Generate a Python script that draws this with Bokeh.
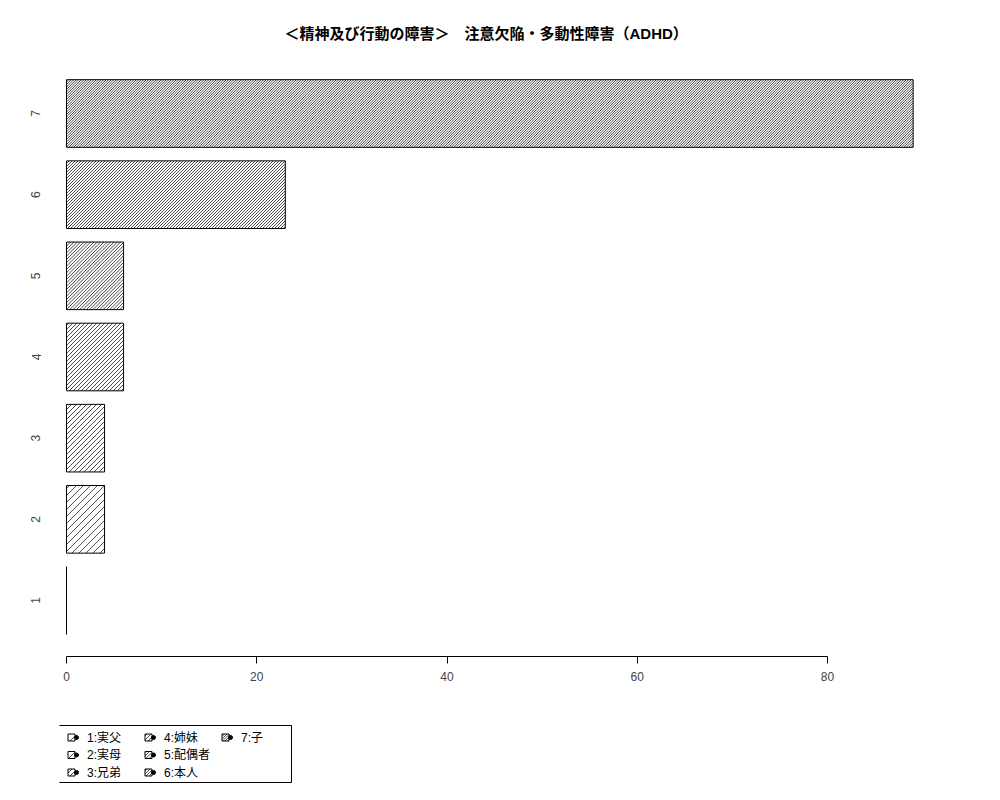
import math
from bokeh.plotting import figure
from bokeh.models import Range1d, FixedTicker, ColumnDataSource, Title
from bokeh.layouts import column
from bokeh.embed import file_html
from bokeh.resources import INLINE
from bokeh.core.properties import value

# ---- data ----
categories = ["1", "2", "3", "4", "5", "6", "7"]
legend_labels = ["1:実父", "2:実母", "3:兄弟", "4:姉妹", "5:配偶者", "6:本人", "7:子"]
counts = [0, 4, 4, 6, 6, 23, 89]
hatch_spacing = [10.0, 7.0, 5.0, 4.0, 10 / 3, 3.0, 2.5]   # px between hatch lines (horizontal)
x_ticks = [0, 20, 40, 60, 80]
title_text = "＜精神及び行動の障害＞　注意欠陥・多動性障害（ADHD）"

FONT = "Liberation Sans, Noto Sans CJK JP"
LAT = "Liberation Sans"

# ---- layout constants ----
W, H = 984, 700
MB_L, MB_R, MB_T, MB_B = 59, 14, 57, 44
FRAME_W = W - MB_L - MB_R
FRAME_H = H - MB_T - MB_B
XR = (-0.736, 95.03)
YR = (-0.128, 8.728)
kx = FRAME_W / (XR[1] - XR[0])
ky = FRAME_H / (YR[1] - YR[0])
HATCH_W = 0.7


def hatch_lines(x0, x1, y0, y1, d):
    """45-degree '/' lines inside a pixel box (y up). Returns lists of segment ends."""
    sx, sy, ex, ey = [], [], [], []
    if x1 - x0 <= 0 or d <= 0:
        return sx, sy, ex, ey
    k0 = math.ceil((x0 - y1) / d)
    k1 = math.floor((x1 - y0) / d)
    for k in range(k0, k1 + 1):
        c = k * d
        xs = max(x0, c + y0)
        xe = min(x1, c + y1)
        if xe - xs > 0.01:
            sx.append(xs); sy.append(xs - c); ex.append(xe); ey.append(xe - c)
    return sx, sy, ex, ey


# bar centres like R barplot (width 1, space 0.2)
ys = [0.7 + 1.2 * i for i in range(len(categories))]
src = ColumnDataSource(dict(y=ys, right=counts, cat=categories))

p = figure(width=W, height=H, output_backend="svg", toolbar_location=None,
           x_range=Range1d(*XR), y_range=Range1d(*YR),
           min_border_left=MB_L, min_border_right=MB_R, min_border_top=MB_T, min_border_bottom=MB_B)
p.outline_line_color = None
p.xgrid.visible = False
p.ygrid.visible = False

p.hbar(y="y", left=0, right="right", height=1.0, source=src,
       fill_color="white", line_color=None)

hx0, hy0, hx1, hy1 = [], [], [], []
for yc, v, d in zip(ys, counts, hatch_spacing):
    bx0 = (0 - XR[0]) * kx
    bx1 = (v - XR[0]) * kx
    by0 = (yc - 0.5 - YR[0]) * ky
    by1 = (yc + 0.5 - YR[0]) * ky
    a, b, c_, e = hatch_lines(bx0, bx1, by0, by1, d)
    hx0 += [XR[0] + t / kx for t in a]
    hy0 += [YR[0] + t / ky for t in b]
    hx1 += [XR[0] + t / kx for t in c_]
    hy1 += [YR[0] + t / ky for t in e]
p.segment(x0=hx0, y0=hy0, x1=hx1, y1=hy1, line_color="black", line_width=HATCH_W)

p.hbar(y="y", left=0, right="right", height=1.0, source=src,
       fill_color=None, line_color="black", line_width=1)

p.add_layout(Title(text=title_text, align="left", offset=225, standoff=32,
                   text_font=FONT, text_font_size="15px", text_font_style="bold",
                   text_color="black"), "above")

xa = p.xaxis[0]
xa.ticker = FixedTicker(ticks=x_ticks)
xa.bounds = (0, 80)
xa.axis_line_color = "black"
xa.major_tick_line_color = "black"
xa.major_tick_out = 7
xa.major_tick_in = 0
xa.minor_tick_line_color = None
xa.major_label_text_font = LAT
xa.major_label_text_font_size = "12px"
xa.major_label_standoff = 8

ya = p.yaxis[0]
ya.ticker = FixedTicker(ticks=ys)
ya.major_label_overrides = {y: c for y, c in zip(ys, categories)}
ya.major_label_orientation = "vertical"
ya.axis_line_color = None
ya.major_tick_line_color = None
ya.minor_tick_line_color = None
ya.major_label_text_font = LAT
ya.major_label_text_font_size = "12px"
ya.major_label_standoff = 13

# ---- legend panel (page pixel coordinates, y downwards) ----
LH = 92
lg = figure(width=W, height=LH, output_backend="svg", toolbar_location=None,
            x_range=Range1d(MB_L, W - MB_R), y_range=Range1d(H + LH, H),
            min_border_left=MB_L, min_border_right=MB_R, min_border_top=0, min_border_bottom=0,
            x_axis_location=None, y_axis_location=None)
lg.outline_line_color = None
lg.xgrid.visible = False
lg.ygrid.visible = False

lg.quad(left=[57], right=[291], top=[725], bottom=[782],
        fill_color=None, line_color="black", line_width=1)

col_x = [67.5, 144.5, 221.5]
row_y = [737.0, 754.5, 772.0]
KS = 7
kx_l, ky_l, tx = [], [], []
lx0, ly0, lx1, ly1 = [], [], [], []
for i in range(len(legend_labels)):
    c, r = divmod(i, 3)
    left = col_x[c]
    cy = row_y[r]
    kx_l.append(left + KS / 2)
    ky_l.append(cy)
    tx.append(left + 19)
    a, b, c_, e = hatch_lines(left, left + KS, -(cy + KS / 2), -(cy - KS / 2), hatch_spacing[i])
    lx0 += a; ly0 += [-t for t in b]; lx1 += c_; ly1 += [-t for t in e]

lsrc = ColumnDataSource(dict(kx=kx_l, ky=ky_l, dx=[x + KS / 2 + 1.5 for x in kx_l], tx=tx,
                             lab=legend_labels))
lg.rect(x="kx", y="ky", width=KS, height=KS, source=lsrc, fill_color="white", line_color=None)
lg.segment(x0=lx0, y0=ly0, x1=lx1, y1=ly1, line_color="black", line_width=HATCH_W)
lg.rect(x="kx", y="ky", width=KS, height=KS, source=lsrc, fill_color=None,
        line_color="black", line_width=1)
lg.scatter(x="dx", y="ky", size=4, source=lsrc, fill_color="black", line_color="black")
lg.text(x="tx", y="ky", text="lab", source=lsrc, text_font=value(FONT),
        text_font_size="12px", text_baseline="middle", text_align="left", text_color="black")

layout = column(p, lg)
open("out.html", "w").write(file_html(layout, INLINE))
